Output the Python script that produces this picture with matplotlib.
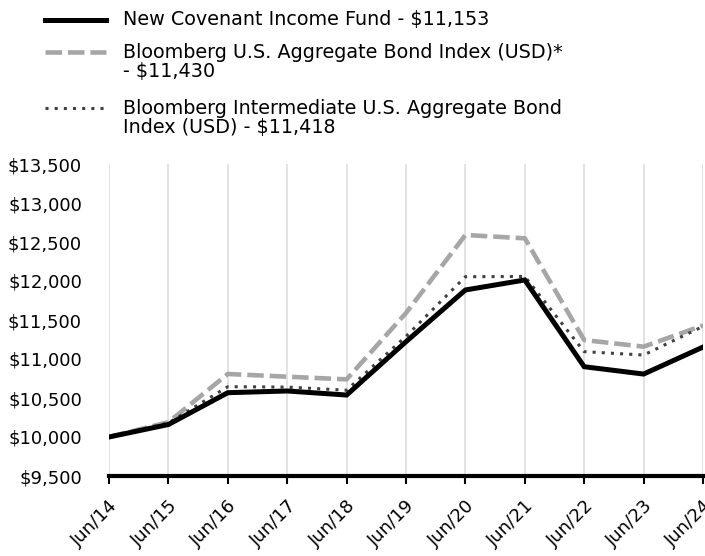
import matplotlib.pyplot as plt
from matplotlib.lines import Line2D
from matplotlib.ticker import FuncFormatter

plt.rcParams['font.family'] = ['DejaVu Sans']

# data
years = ['Jun/14', 'Jun/15', 'Jun/16', 'Jun/17', 'Jun/18', 'Jun/19',
         'Jun/20', 'Jun/21', 'Jun/22', 'Jun/23', 'Jun/24']
fund = [10000, 10160, 10568, 10590, 10538, 11222, 11885, 12013, 10901, 10807, 11153]
agg = [10000, 10190, 10808, 10773, 10739, 11590, 12590, 12547, 11243, 11158, 11430]
inter = [10000, 10180, 10645, 10640, 10600, 11290, 12055, 12058, 11094, 11051, 11418]

labels = ['New Covenant Income Fund - $11,153',
          'Bloomberg U.S. Aggregate Bond Index (USD)*\n- $11,430',
          'Bloomberg Intermediate U.S. Aggregate Bond\nIndex (USD) - $11,418']

W, H = 705, 556
fig = plt.figure(figsize=(W / 100, H / 100), dpi=100)
ax = fig.add_axes([109 / W, 1 - 476 / H, (703 - 109) / W, (476 - 164) / H])

styles = [dict(color='black', lw=3.6, solid_joinstyle='miter', zorder=4),
          dict(color='#a6a6a6', lw=3.3, dashes=(3.6, 1.3), zorder=2),
          dict(color='#404040', lw=2.2, dashes=(1, 2.0), zorder=3)]

x = range(len(years))
for series, st in zip([fund, agg, inter], styles):
    ax.plot(x, series, **st)

ax.set_xlim(0, len(years) - 1)
ax.set_ylim(9500, 13500)
ax.set_yticks(range(9500, 14000, 500))
ax.yaxis.set_major_formatter(FuncFormatter(lambda v, p: '${:,.0f}'.format(v)))
ax.set_xticks(list(x))
ax.set_xticklabels(years, rotation=45, ha='right', va='top', rotation_mode='anchor')

ax.grid(axis='x', color='#e3e3e3', lw=1.4)
ax.set_axisbelow(True)
for s in ['top', 'right', 'left']:
    ax.spines[s].set_visible(False)
ax.spines['bottom'].set_linewidth(3)
ax.spines['bottom'].set_zorder(5)
ax.tick_params(axis='y', length=0, labelsize=13, pad=19.5)
ax.tick_params(axis='x', length=6, width=1.5, labelsize=13, pad=9)

# legend drawn by hand so the uneven row spacing of the original can be kept
rows = [20, 52, 108]
for lab, y, st in zip(labels, rows, styles):
    st = {k: v for k, v in st.items() if k not in ('zorder', 'solid_joinstyle')}
    fig.add_artist(Line2D([45 / W, 106 / W], [1 - y / H, 1 - y / H],
                          transform=fig.transFigure, **st))
    for i, line in enumerate(lab.split('\n')):
        fig.text(123 / W, 1 - (y + 20 * i) / H, line, fontsize=13.8,
                 ha='left', va='center')

fig.savefig('out.png', dpi=100)
